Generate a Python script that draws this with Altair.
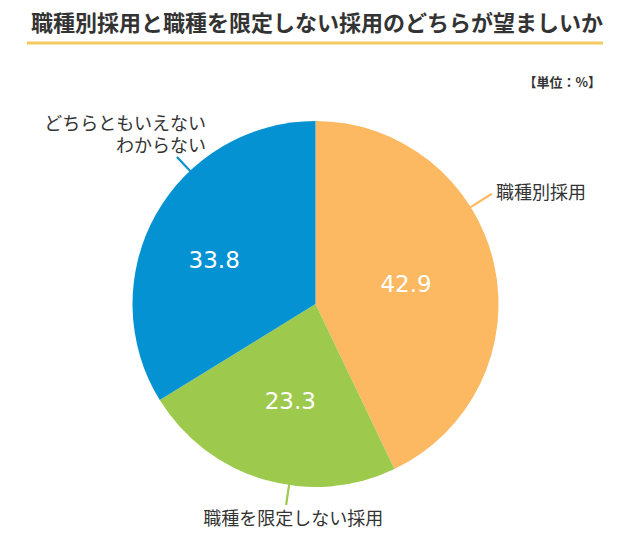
import math
import altair as alt
import pandas as pd

# ---- data ----
categories = ["職種別採用", "職種を限定しない採用", "どちらともいえない\nわからない"]
values = [42.9, 23.3, 33.8]
order = [0, 1, 2]
title_text = "職種別採用と職種を限定しない採用のどちらが望ましいか"
unit_text = "【単位：%】"

# ---- styles ----
colors = ["#FCB962", "#9DCA4C", "#0592D2"]
TEXT = "#333333"
JP = "Noto Sans CJK JP"
NUM = "DejaVu Sans"
CX, CY, R = 307.5, 296, 183

df = pd.DataFrame({"cat": categories, "value": values, "order": order})
one = pd.DataFrame({"t": [title_text], "u": [unit_text]})

theta_scale = alt.Scale(domain=[0, 100], range=[0, 2 * math.pi])
color_scale = alt.Scale(domain=categories, range=colors)

base = (
    alt.Chart(df)
    .transform_window(end="sum(value)", sort=[alt.SortField("order")], frame=[None, 0])
    .transform_calculate(start="datum.end - datum.value", mid="datum.end - datum.value / 2")
)

arcs = base.mark_arc(radius=R).encode(
    theta=alt.Theta("start:Q", scale=theta_scale),
    theta2="end:Q",
    x=alt.value(CX),
    y=alt.value(CY),
    color=alt.Color("cat:N", scale=color_scale, legend=None),
)

layers = [arcs]

# value labels (per slice fine offsets)
value_style = {
    categories[0]: dict(dx=-7, dy=3),
    categories[1]: dict(dx=3, dy=2),
    categories[2]: dict(dx=-14, dy=6),
}
for c in categories:
    s = value_style[c]
    layers.append(
        base.transform_filter(alt.datum.cat == c)
        .mark_text(radius=100, font=NUM, fontSize=23, color="white",
                   align="center", baseline="middle", dx=s["dx"], dy=s["dy"])
        .encode(
            theta=alt.Theta("mid:Q", scale=theta_scale),
            x=alt.value(CX), y=alt.value(CY),
            text=alt.Text("value:Q", format=".1f"),
        )
    )

# leader lines and outer category labels
lead_style = {
    categories[0]: dict(shift=-5.34, r_out=208, dx=4, dy=0, align="left"),
    categories[1]: dict(shift=-2.24, r_out=203, dx=7, dy=15, align="center"),
    categories[2]: dict(shift=4.87, r_out=202, dx=29, dy=-32, align="right"),
}
for c, col in zip(categories, colors):
    s = lead_style[c]
    lb = base.transform_filter(alt.datum.cat == c).transform_calculate(
        lead=f"datum.mid + ({s['shift']})",
        la=f"datum.mid + ({s['shift']}) - 0.09",
        lz=f"datum.mid + ({s['shift']}) + 0.09",
    )
    layers.append(
        lb.mark_arc(radius=s["r_out"], radius2=R - 1, color=col).encode(
            theta=alt.Theta("la:Q", scale=theta_scale),
            theta2="lz:Q",
            x=alt.value(CX), y=alt.value(CY),
        )
    )
    layers.append(
        lb.transform_calculate(lbl="split(datum.cat, '\\n')")
        .mark_text(radius=s["r_out"], font=JP, fontSize=18, color=TEXT,
                   align=s["align"], baseline="middle", lineHeight=22,
                   dx=s["dx"], dy=s["dy"])
        .encode(
            theta=alt.Theta("lead:Q", scale=theta_scale),
            x=alt.value(CX), y=alt.value(CY),
            text="lbl:N",
        )
    )

# title, underline, unit
title = alt.Chart(one).mark_text(
    font=JP, fontSize=22, fontWeight="bold", color=TEXT, align="left", baseline="middle"
).encode(x=alt.value(23), y=alt.value(15.5), text="t:N")
underline = alt.Chart(one).mark_rule(color="#F2CA5E", strokeWidth=3).encode(
    x=alt.value(19), x2=alt.value(595), y=alt.value(35)
)
unit = alt.Chart(one).mark_text(
    font=JP, fontSize=13, fontWeight="bold", color=TEXT, align="right", baseline="middle"
).encode(x=alt.value(593), y=alt.value(75), text="u:N")

layers += [title, underline, unit]

chart = (
    alt.layer(*layers)
    .properties(width=614, height=537, autosize=alt.AutoSizeParams(type="none"), padding=0)
    .configure_view(stroke=None)
)

chart.save("out.html", embed_options={"renderer": "svg", "actions": False})
